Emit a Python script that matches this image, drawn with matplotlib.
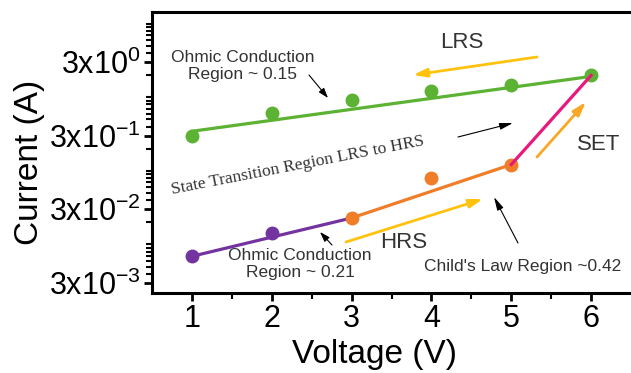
import matplotlib
matplotlib.use("Agg")
import matplotlib.pyplot as plt
from matplotlib.ticker import FixedLocator, LogLocator, NullFormatter

plt.rcParams['font.family'] = ['Liberation Sans', 'DejaVu Sans']

# data
voltage = [1, 2, 3, 4, 5, 6]
lrs_current = [0.302, 0.615, 0.912, 1.21, 1.49, 1.98]
lrs_fit_v = [1, 6]
lrs_fit_i = [0.345, 1.92]
hrs_ohmic_v = [1, 2, 3]
hrs_ohmic_i = [0.0069, 0.0143, 0.0229]
hrs_child_v = [3, 4, 5]
hrs_child_i = [0.0229, 0.080, 0.1217]
set_v = [5, 6]
set_i = [0.1217, 1.98]

ytick_vals = [3e-3, 3e-2, 3e-1, 3]
ytick_labels = [r'$\mathregular{3x10^{-3}}$', r'$\mathregular{3x10^{-2}}$',
                r'$\mathregular{3x10^{-1}}$', r'$\mathregular{3x10^{0}}$']

green = '#5cb233'
purple = '#7434a0'
orange = '#f07d28'
pink = '#e8197c'
gold = '#ffc20e'
amber = '#f9a825'
txt = '#333333'

W, H = 631, 373
fig = plt.figure(figsize=(W / 100, H / 100), dpi=100)
ax = fig.add_axes([152 / W, (H - 293) / H, 479 / W, 281 / H])


def px(x, y):
    # figure pixel (from top-left) -> figure fraction
    return (x / W, 1 - y / H)


ax.plot(lrs_fit_v, lrs_fit_i, color=green, lw=2.3, zorder=2)
ax.plot(voltage, lrs_current, 'o', color=green, ms=9, zorder=3)
ax.plot([hrs_ohmic_v[0], hrs_ohmic_v[-1]], [hrs_ohmic_i[0], hrs_ohmic_i[-1]],
        color=purple, lw=2.3, zorder=2)
ax.plot(hrs_ohmic_v[:2], hrs_ohmic_i[:2], 'o', color=purple, ms=9, zorder=3)
ax.plot([hrs_child_v[0], hrs_child_v[-1]], [hrs_child_i[0], hrs_child_i[-1]],
        color=orange, lw=2.3, zorder=2)
ax.plot(hrs_child_v, hrs_child_i, 'o', color=orange, ms=9, zorder=3)
ax.plot(set_v, set_i, color=pink, lw=2.3, zorder=4)

ax.set_yscale('log')
ax.set_xlim(0.5, 6.5)
ax.set_ylim(2.19e-3, 14.4)
ax.set_xticks(voltage)
ax.set_xticks([1.5, 2.5, 3.5, 4.5, 5.5], minor=True)
ax.yaxis.set_major_locator(FixedLocator(ytick_vals))
ax.set_yticklabels(ytick_labels)
ax.yaxis.set_minor_locator(LogLocator(base=10, subs=range(1, 10), numticks=20))
ax.yaxis.set_minor_formatter(NullFormatter())
ax.tick_params(which='major', direction='out', length=6, width=2, labelsize=22, pad=2)
ax.tick_params(which='minor', direction='out', length=4, width=1.5)
for s in ['left', 'bottom', 'top']:
    ax.spines[s].set_linewidth(2.2)
ax.spines['right'].set_visible(False)

fig.text(30 / W, 1 - 162 / H, 'Current (A)', rotation=90, fontsize=24,
         ha='center', va='center')
fig.text(375 / W, 1 - 354 / H, 'Voltage (V)', fontsize=24, ha='center', va='center')

# annotations
fig.text(*px(243, 66), 'Ohmic Conduction\nRegion ~ 0.15', fontsize=12.5, color=txt,
         ha='center', va='center', linespacing=1.1)
fig.text(*px(300, 264), 'Ohmic Conduction\nRegion ~ 0.21', fontsize=12.5, color=txt,
         ha='center', va='center', linespacing=1.1)
fig.text(*px(523, 266), "Child's Law Region ~0.42", fontsize=12.5, color=txt,
         ha='center', va='center')
fig.text(*px(462, 43), 'LRS', fontsize=16, color=txt, ha='center', va='center')
fig.text(*px(599, 145), 'SET', fontsize=16, color=txt, ha='center', va='center')
fig.text(*px(404, 242), 'HRS', fontsize=16, color=txt, ha='center', va='center')
fig.text(*px(298, 166), 'State Transition Region LRS to HRS', fontsize=12.5,
         family='Liberation Serif', color=txt, rotation=11, ha='center', va='center',
         rotation_mode='anchor')


def arrow(tail, head, color, lw, hw, hl):
    ax.annotate('', xy=px(*head), xycoords='figure fraction',
                xytext=px(*tail), textcoords='figure fraction',
                arrowprops=dict(arrowstyle=f'-|>,head_width={hw},head_length={hl}',
                                color=color, lw=lw, shrinkA=0, shrinkB=0))


arrow((309, 75), (328, 98), 'black', 0.8, 0.2, 0.6)
arrow((537, 57), (413, 75), gold, 2, 0.25, 0.8)
arrow((458, 137), (513, 123), 'black', 0.8, 0.2, 0.8)
arrow((537, 157), (586, 102), amber, 2, 0.25, 0.8)
arrow((346, 242), (483, 199), gold, 2, 0.25, 0.8)
arrow((332, 245), (320, 232), 'black', 0.8, 0.2, 0.6)
arrow((518, 243), (494, 197), 'black', 0.8, 0.2, 0.8)

fig.savefig('out.png', dpi=100)
